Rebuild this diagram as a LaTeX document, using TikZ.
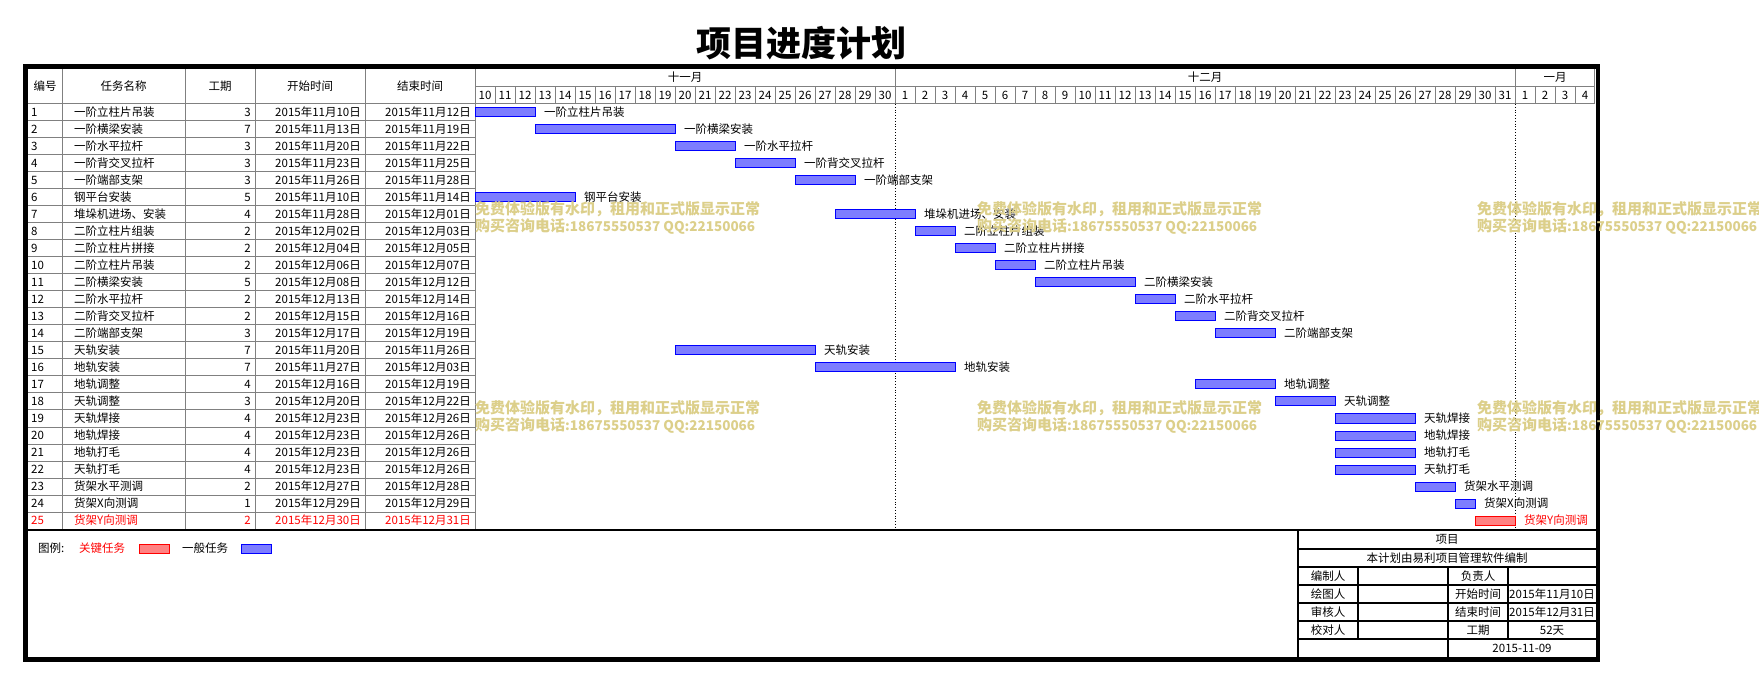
\documentclass[tikz,border=0pt]{standalone}
\usepackage{fontspec}
\setmainfont{Noto Sans CJK SC}
\definecolor{gridgray}{RGB}{128,128,128}
\definecolor{barblue}{RGB}{125,125,255}
\definecolor{barred}{RGB}{255,130,130}
\definecolor{wmark}{RGB}{220,207,138}
\begin{document}
\begin{tikzpicture}[x=1pt,y=-1pt,
  txt/.style={inner sep=0pt, font=\fontsize{11.5}{12}\selectfont, text height=9.5pt, text depth=1.5pt},
  gridline/.style={draw=gridgray, line width=1pt},
  blackline/.style={draw=black, line width=1.2pt},
  frameline/.style={draw=black, line width=4.5pt},
  monthsep/.style={draw=black, line width=0.8pt, dotted},
  bar/.style={line width=1pt},
  wmtext/.style={inner sep=0pt, anchor=west, text=wmark, font=\fontsize{15}{15}\selectfont\bfseries}]
\fill[white] (0,0) rectangle (1759,684);
\useasboundingbox (0,0) rectangle (1759,684);

% title
\node[inner sep=0pt, font=\fontsize{35}{36}\selectfont\bfseries] (title) at (801,43) {项目进度计划};

% ---------- grid ----------
\foreach \x in {62,185,255,365,475} \draw[gridline] (\x,69) -- (\x,529);
\draw[gridline] (28,104) -- (1595,104);
\draw[gridline] (475,87) -- (1595,87);
\foreach \i in {1,...,24} \draw[gridline] (28,{104+17*\i}) -- (475,{104+17*\i});
\foreach \k in {1,...,55} \draw[gridline] ({475+20*\k},87) -- ({475+20*\k},104);
\draw[gridline] (895,69) -- (895,104);
\draw[gridline] (1515,69) -- (1515,104);
\draw[gridline] (1594,69) -- (1594,104);
\draw[monthsep] (895,104) -- (895,529);
\draw[monthsep] (1515,104) -- (1515,529);

% ---------- header texts ----------
\node[txt] (h1) at (45,86.5) {编号};
\node[txt] (h2) at (123.5,86.5) {任务名称};
\node[txt] (h3) at (220,86.5) {工期};
\node[txt] (h4) at (310,86.5) {开始时间};
\node[txt] (h5) at (420,86.5) {结束时间};
\node[txt] (m11) at (685,78) {十一月};
\node[txt] (m12) at (1205,78) {十二月};
\node[txt] (m1) at (1555,78) {一月};
\foreach \k in {0,...,55} {
  \pgfmathtruncatemacro\d{\k<=20 ? \k+10 : (\k<=51 ? \k-20 : \k-51)}
  \node[txt] (day\k) at ({485+20*\k},95.5) {\d};
}

% ---------- tasks ----------
\foreach \i/\nm/\du/\sd/\ed/\s/\e/\tc/\fc/\dc in {
1/一阶立柱片吊装/3/2015年11月10日/2015年11月12日/0/2/black/barblue/blue,
2/一阶横梁安装/7/2015年11月13日/2015年11月19日/3/9/black/barblue/blue,
3/一阶水平拉杆/3/2015年11月20日/2015年11月22日/10/12/black/barblue/blue,
4/一阶背交叉拉杆/3/2015年11月23日/2015年11月25日/13/15/black/barblue/blue,
5/一阶端部支架/3/2015年11月26日/2015年11月28日/16/18/black/barblue/blue,
6/钢平台安装/5/2015年11月10日/2015年11月14日/0/4/black/barblue/blue,
7/堆垛机进场、安装/4/2015年11月28日/2015年12月01日/18/21/black/barblue/blue,
8/二阶立柱片组装/2/2015年12月02日/2015年12月03日/22/23/black/barblue/blue,
9/二阶立柱片拼接/2/2015年12月04日/2015年12月05日/24/25/black/barblue/blue,
10/二阶立柱片吊装/2/2015年12月06日/2015年12月07日/26/27/black/barblue/blue,
11/二阶横梁安装/5/2015年12月08日/2015年12月12日/28/32/black/barblue/blue,
12/二阶水平拉杆/2/2015年12月13日/2015年12月14日/33/34/black/barblue/blue,
13/二阶背交叉拉杆/2/2015年12月15日/2015年12月16日/35/36/black/barblue/blue,
14/二阶端部支架/3/2015年12月17日/2015年12月19日/37/39/black/barblue/blue,
15/天轨安装/7/2015年11月20日/2015年11月26日/10/16/black/barblue/blue,
16/地轨安装/7/2015年11月27日/2015年12月03日/17/23/black/barblue/blue,
17/地轨调整/4/2015年12月16日/2015年12月19日/36/39/black/barblue/blue,
18/天轨调整/3/2015年12月20日/2015年12月22日/40/42/black/barblue/blue,
19/天轨焊接/4/2015年12月23日/2015年12月26日/43/46/black/barblue/blue,
20/地轨焊接/4/2015年12月23日/2015年12月26日/43/46/black/barblue/blue,
21/地轨打毛/4/2015年12月23日/2015年12月26日/43/46/black/barblue/blue,
22/天轨打毛/4/2015年12月23日/2015年12月26日/43/46/black/barblue/blue,
23/货架水平测调/2/2015年12月27日/2015年12月28日/47/48/black/barblue/blue,
24/货架X向测调/1/2015年12月29日/2015年12月29日/49/49/black/barblue/blue,
25/货架Y向测调/2/2015年12月30日/2015年12月31日/50/51/red/barred/red} {
  \pgfmathsetmacro\yt{104+17*(\i-1)}
  \pgfmathsetmacro\yc{\yt+8.5}
  \pgfmathsetmacro\xs{475+20*\s}
  \pgfmathsetmacro\xe{475+20*(\e+1)}
  \node[txt, anchor=west, text=\tc] (id\i) at (31,\yc) {\i};
  \node[txt, anchor=west, text=\tc] (nm\i) at (74,\yc) {\nm};
  \node[txt, anchor=east, text=\tc] (du\i) at (251,\yc) {\du};
  \node[txt, anchor=east, text=\tc] (sd\i) at (361,\yc) {\sd};
  \node[txt, anchor=east, text=\tc] (ed\i) at (471,\yc) {\ed};
  \draw[bar, fill=\fc, draw=\dc] (\xs,\yt+4) rectangle (\xe,\yt+13);
  \node[txt, anchor=west, text=\tc] (lb\i) at (\xe+9,\yc) {\nm};
}

% separator under the chart
\draw[blackline] (28,530) -- (1596,530);

% ---------- legend ----------
\node[txt, anchor=west] (lg0) at (38,548) {图例:};
\node[txt, anchor=west, text=red] (lg1) at (79,548) {关键任务};
\draw[bar, fill=barred, draw=red] (139,544) rectangle (169,553);
\node[txt, anchor=west] (lg2) at (182,548) {一般任务};
\draw[bar, fill=barblue, draw=blue] (241,544) rectangle (271,553);

% ---------- info block ----------
\draw[blackline] (1298,530) -- (1298,658);
\foreach \y in {549,567,585,603,621,639} \draw[blackline] (1298,\y) -- (1596,\y);
\draw[blackline] (1358,567) -- (1358,639);
\draw[blackline] (1448,567) -- (1448,658);
\draw[blackline] (1508,567) -- (1508,639);
\node[txt] (ib1) at (1447,539.5) {项目};
\node[txt] (ib2) at (1447,558) {本计划由易利项目管理软件编制};
\node[txt] (ib3) at (1328,576) {编制人};
\node[txt] (ib4) at (1478,576) {负责人};
\node[txt] (ib5) at (1328,594) {绘图人};
\node[txt] (ib6) at (1478,594) {开始时间};
\node[txt] (ib7) at (1552,594) {2015年11月10日};
\node[txt] (ib8) at (1328,612) {审核人};
\node[txt] (ib9) at (1478,612) {结束时间};
\node[txt] (ib10) at (1552,612) {2015年12月31日};
\node[txt] (ib11) at (1328,630) {校对人};
\node[txt] (ib12) at (1478,630) {工期};
\node[txt] (ib13) at (1552,630) {52天};
\node[txt] (ib14) at (1522,648.5) {2015-11-09};

% ---------- outer frame ----------
\draw[frameline] (25.5,66.3) rectangle (1597.8,659.6);

% ---------- watermark ----------
\foreach \wx/\wy/\wn in {475/209/a,977/209/b,1477/209/c,475/408/d,977/408/e,1477/408/f} {
  \node[wmtext] (wm\wn1) at (\wx,\wy) {免费体验版有水印，租用和正式版显示正常};
  \node[wmtext] (wm\wn2) at (\wx,\wy+17) {购买咨询电话{\fontsize{13.5}{15}\selectfont:18675550537 QQ:22150066}};
}
\end{tikzpicture}
\end{document}
